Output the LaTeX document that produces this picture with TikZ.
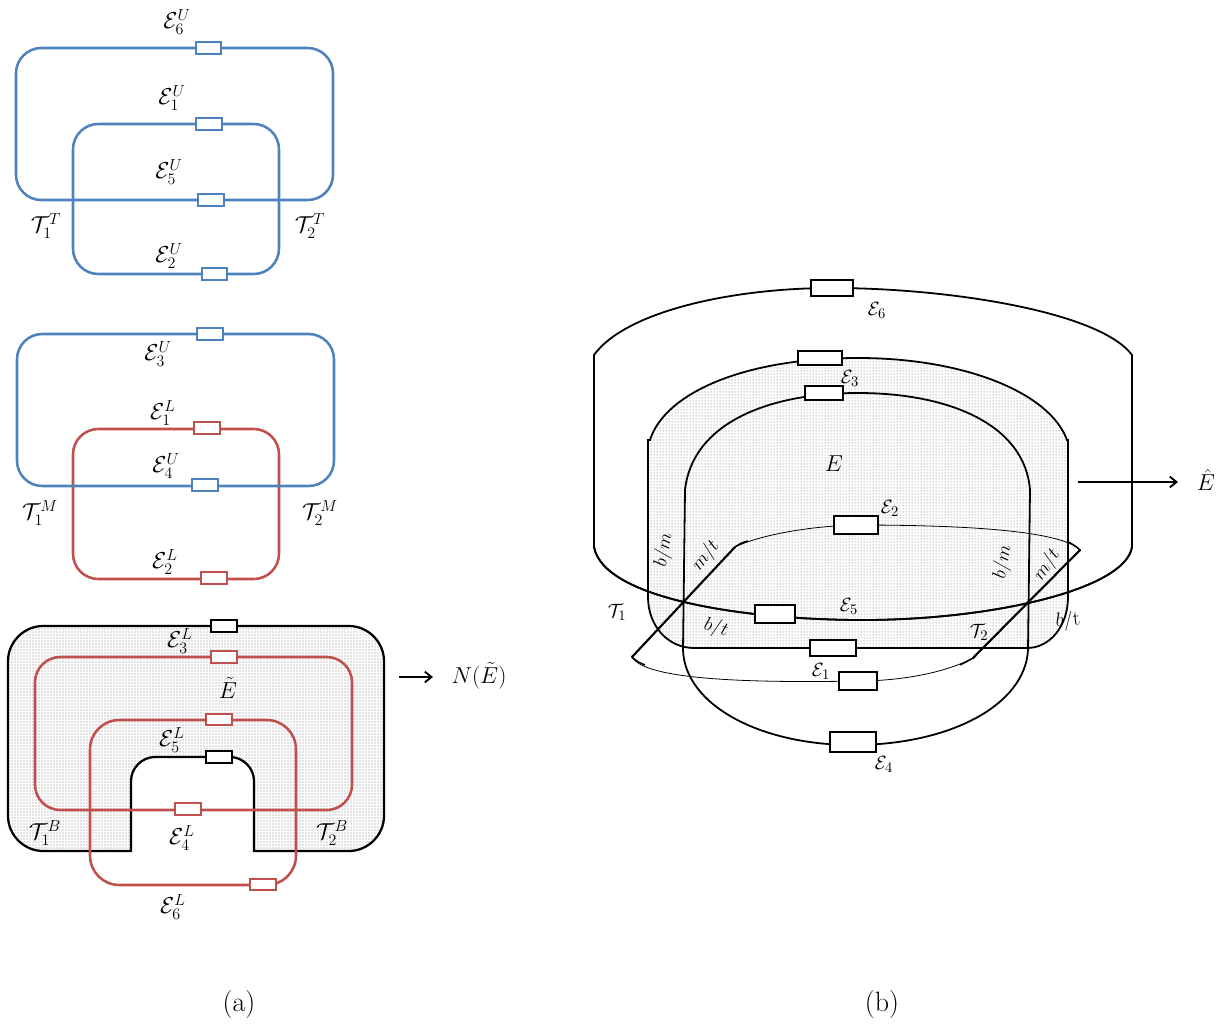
\documentclass[tikz,border=0pt]{standalone}
\usetikzlibrary{arrows.meta,patterns.meta}
\definecolor{bluL}{HTML}{4F81BD}
\definecolor{redL}{HTML}{C0504D}
\tikzset{
  bl/.style={draw=bluL,line width=1.9pt,rounded corners=19pt},
  rd/.style={draw=redL,line width=1.9pt},
  bk/.style={draw=black,line width=1.7pt},
  dotted fill/.style={pattern={Dots[distance=2.25pt,radius=0.38pt]},pattern color=black!50},
  rline/.style={draw=black,line width=1.35pt},
  thinl/.style={draw=black,line width=0.6pt},
  bbox/.style={draw=bluL,line width=1.7pt,fill=white,minimum width=19pt,minimum height=8.5pt,inner sep=0pt},
  rbox/.style={draw=redL,line width=1.7pt,fill=white,minimum width=19pt,minimum height=8.5pt,inner sep=0pt},
  kbox/.style={draw=black,line width=1.7pt,fill=white,minimum width=19pt,minimum height=8.5pt,inner sep=0pt},
  rk/.style={draw=black,line width=1.6pt,fill=white,inner sep=0pt},
  lab/.style={inner sep=0pt,font=\fontsize{17}{20}\selectfont},
  slab/.style={inner sep=0pt,font=\fontsize{15.5}{18}\selectfont},
  elab/.style={inner sep=0pt,font=\fontsize{16}{18}\selectfont},
  captxt/.style={inner sep=0pt,font=\fontsize{21}{24}\selectfont},
  arr/.style={draw=black,line width=1.4pt,-{Straight Barb[length=5pt,width=8pt]}},
}
\begin{document}
\begin{tikzpicture}[x=0.75pt,y=-0.75pt]
\useasboundingbox (0,0) rectangle (1225,1025);
% --- top group
\path[bl] (16,48) rectangle (333,200);
\path[bl] (73,124) rectangle (279,274);
\node[bbox] (bA) at (208.5,48) {};
\node[bbox] (bB) at (209,124) {};
\node[bbox] (bC) at (211,200) {};
\node[bbox] (bD) at (214.5,274) {};
\node[lab] (l1) at (177,22) {$\mathcal{E}_6^U$};
\node[lab] (l2) at (172,98) {$\mathcal{E}_1^U$};
\node[lab] (l3) at (169,172) {$\mathcal{E}_5^U$};
\node[lab] (l4) at (169,256) {$\mathcal{E}_2^U$};
\node[lab] (l5) at (46,226) {$\mathcal{T}_1^T$};
\node[lab] (l6) at (310,226) {$\mathcal{T}_2^T$};
% --- middle group
\path[rd,rounded corners=19pt] (73,429) rectangle (279,579);
\path[bl] (17,334) rectangle (334,486);
\node[bbox] (bE) at (210,334) {};
\node[bbox] (bF) at (205,485) {};
\node[rbox] (rA) at (207,428) {};
\node[rbox] (rB) at (214,578) {};
\node[lab] (l7) at (158,354) {$\mathcal{E}_3^U$};
\node[lab] (l8) at (163,413) {$\mathcal{E}_1^L$};
\node[lab] (l9) at (166,466) {$\mathcal{E}_4^U$};
\node[lab] (l10) at (165,562) {$\mathcal{E}_2^L$};
\node[lab] (l11) at (40,513) {$\mathcal{T}_1^M$};
\node[lab] (l12) at (320,513) {$\mathcal{T}_2^M$};
% --- bottom group
\path[bk,dotted fill] (224,626) -- (349,626) .. controls (368,626) and (384,642) .. (384,661) -- (384,816) .. controls (384,835) and (368,851) .. (349,851) -- (254,851) -- (254,781) .. controls (254,768) and (243,757) .. (230,757) -- (155,757) .. controls (142,757) and (131,768) .. (131,781) -- (131,851) -- (43,851) .. controls (24,851) and (8,835) .. (8,816) -- (8,661) .. controls (8,642) and (24,626) .. (43,626) -- cycle;
\path[rd,rounded corners=19pt] (35,657) rectangle (352,810);
\path[rd,rounded corners=22pt] (90,720) rectangle (296,885);
\node[kbox] (kA) at (224,626) {};
\node[kbox] (kB) at (219,757) {};
\node[rbox] (rC) at (224,657) {};
\node[rbox] (rD) at (219,719.5) {};
\node[rbox] (rE) at (188,809) {};
\node[rbox] (rF) at (263,884.5) {};
\node[lab] (l13) at (180,641) {$\mathcal{E}_3^L$};
\node[lab] (l14) at (228,688) {$\tilde{E}$};
\node[lab] (l15) at (172,740) {$\mathcal{E}_5^L$};
\node[lab] (l16) at (182,838) {$\mathcal{E}_4^L$};
\node[lab] (l17) at (173,907) {$\mathcal{E}_6^L$};
\node[lab] (l18) at (45,833) {$\mathcal{T}_1^B$};
\node[lab] (l19) at (332,833) {$\mathcal{T}_2^B$};
\coordinate (a1s) at (399,677);
\coordinate (a1e) at (433,677);
\draw[arr] (a1s) -- (a1e);
\node[lab] (l20) at (479,676) {$N(\tilde{E})$};
% --- right panel
\path[rline] (594,355) .. controls (625,312) and (730,288) .. (832,288) .. controls (950,288) and (1100,312) .. (1132,355) -- (1132,547) .. controls (1125,590) and (990,620) .. (863,620) .. controls (750,620) and (604,600) .. (594,547) -- cycle;
\path[rline,dotted fill] (650,440) .. controls (664,395) and (740,358) .. (858,358) .. controls (965,358) and (1050,393) .. (1067,440) -- (1068,440) -- (1068,597) .. controls (1068,626) and (1050,648) .. (1027,648) -- (694,648) .. controls (668,648) and (648,626) .. (648,597) -- (648,440) -- cycle;
% the part of the outer loop lying over the dotted region
\path[rline] (594,547) .. controls (604,600) and (750,620) .. (863,620) .. controls (990,620) and (1125,590) .. (1132,547);
\path[rline] (685,490) .. controls (692,425) and (765,393) .. (858,393) .. controls (950,393) and (1025,425) .. (1030,490) -- (1028,650) .. controls (1025,705) and (950,745) .. (853,745) .. controls (760,745) and (685,705) .. (683,650) -- cycle;
\path[thinl] (735,547) .. controls (760,535) and (810,526) .. (856,525) .. controls (960,525) and (1060,530) .. (1080,550);
\path[thinl] (973,658) .. controls (945,673) and (900,681) .. (858,681) .. controls (750,683) and (645,680) .. (632,657);
\path[rline,line width=1.6pt,line cap=round] (632,657) -- (735,547);
\path[rline,line width=1.6pt,line cap=round] (1080,550) -- (973,658);
\path[rline,line width=1.1pt] (632,657) .. controls (636,661) and (640,663) .. (645,665);
\path[rline,line width=1.1pt] (973,658) .. controls (968,661) and (964,663) .. (960,665);
\path[rline,line width=1.1pt] (735,547) .. controls (739,544) and (743,542) .. (748,541);
\path[rline,line width=1.1pt] (1080,550) .. controls (1076,546) and (1072,544) .. (1067,541);
\node[rk,minimum width=31pt,minimum height=12pt] (kC) at (832,288) {};
\node[rk,minimum width=33pt,minimum height=11pt] (kD) at (820,358) {};
\node[rk,minimum width=28pt,minimum height=11pt] (kE) at (824,393) {};
\node[rk,minimum width=33pt,minimum height=13pt] (kF) at (856,525) {};
\node[rk,minimum width=30pt,minimum height=13pt] (kG) at (775,614) {};
\node[rk,minimum width=34pt,minimum height=12pt] (kH) at (833,648) {};
\node[rk,minimum width=29pt,minimum height=13pt] (kI) at (858,681) {};
\node[rk,minimum width=34pt,minimum height=15pt] (kJ) at (853,742) {};
\node[slab] (m1) at (877,310) {$\mathcal{E}_6$};
\node[slab] (m2) at (850,378) {$\mathcal{E}_3$};
\node[elab] (m3) at (834,464) {$E$};
\node[slab] (m4) at (890,508) {$\mathcal{E}_2$};
\node[slab] (m5) at (849,606) {$\mathcal{E}_5$};
\node[slab] (m6) at (821,671) {$\mathcal{E}_1$};
\node[slab] (m7) at (884,764) {$\mathcal{E}_4$};
\node[slab] (m8) at (617,612) {$\mathcal{T}_1$};
\node[slab] (m9) at (979,632) {$\mathcal{T}_2$};
\node[slab,rotate=80] (m10) at (664,550) {$b/m$};
\node[slab,rotate=52] (m11) at (706,556) {$m/t$};
\node[slab,rotate=80] (m12) at (1003,562) {$b/m$};
\node[slab,rotate=55] (m13) at (1047,565) {$m/t$};
\node[slab,rotate=-15] (m14) at (716,628) {$b/t$};
\node[slab,rotate=5] (m15) at (1068,621) {$b/$t};
\coordinate (a2s) at (1078,482);
\coordinate (a2e) at (1178,482);
\draw[arr] (a2s) -- (a2e);
\node[elab] (m16) at (1206,480) {$\hat{E}$};
\node[captxt] (capa) at (239,1005) {(a)};
\node[captxt] (capb) at (882,1005) {(b)};
\end{tikzpicture}
\end{document}
